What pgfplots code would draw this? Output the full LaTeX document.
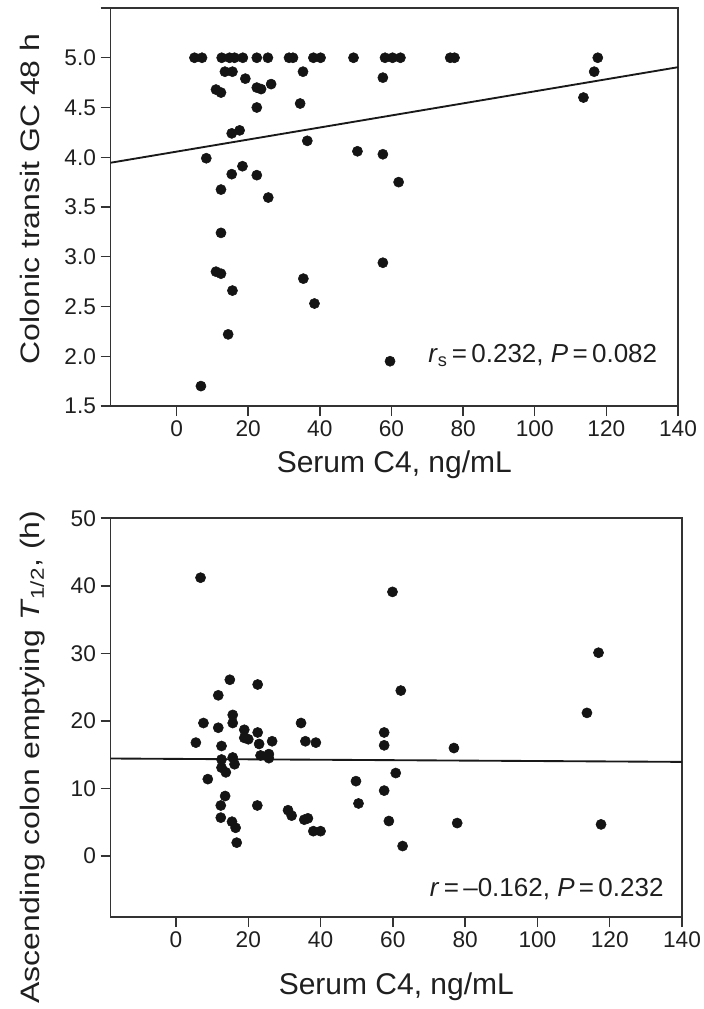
\documentclass[border=0pt]{standalone}
\usepackage{fontspec}
\setmainfont{Liberation Sans}
\newfontfamily\stretchfont[FakeStretch=1.2]{Liberation Sans}
\usepackage{pgfplots}
\pgfplotsset{compat=1.18}
\definecolor{axgray}{HTML}{333333}
\definecolor{dotblk}{HTML}{141414}

\pgfplotsset{
  c4panel/.style={
    scale only axis,
    axis line style={axgray, line width=1.1pt},
    tick style={axgray, line width=1.1pt},
    major tick length=7.5pt,
    tick align=outside,
    tick pos=left,
    xtick={0,20,40,60,80,100,120,140},
    /pgf/number format/assume math mode=true,
    ticklabel style={font=\fontsize{17}{20}\selectfont, text=black!88},
    xlabel={Serum C4, ng/mL},
    xlabel style={font=\fontsize{22.5}{26}\selectfont, text=black!88,
      at={(axis description cs:0.5,0)}, anchor=base},
    ylabel style={font=\stretchfont\fontsize{20}{24}\selectfont, text=black!88, anchor=base},
    clip=false,
  },
  dots/.style={only marks, mark=*, mark size=3.8pt, color=dotblk},
  fitline/.style={no marks, line width=1.4pt, color=black!90},
}

\begin{document}
\begin{tikzpicture}
\path[use as bounding box] (0,0) rectangle (527.25pt,-756.75pt);

% top panel: colonic transit GC 48 h
\begin{axis}[c4panel,
  at={(83pt,-304.5pt)}, anchor=south west,
  width=425.5pt, height=298.5pt,
  xmin=-18.4, xmax=140, ymin=1.5, ymax=5.5,
  ytick={1.5,2,2.5,3,3.5,4,4.5,5,5.5},
  yticklabels={1.5,2.0,2.5,3.0,3.5,4.0,4.5,5.0,{}},
  ylabel={Colonic transit GC 48 h},
  ylabel style={at={(axis description cs:-0.125,0.52)}},
  xlabel style={yshift=-50pt},
]
\addplot[dots] coordinates {
(5.0,5)(7.1,5)(12.6,5)(14.8,5)(16.2,5)(18.5,5)(22.4,5)(25.5,5)(31.4,5)(32.5,5)
(38.2,5)(40.2,5)(49.4,5)(58.2,5)(60.3,5)(62.5,5)(76.4,5)(77.6,5)(117.6,5)
(13.5,4.86)(15.6,4.86)(19.2,4.79)(11.0,4.68)(12.4,4.65)(22.4,4.70)(23.6,4.685)
(26.4,4.735)(35.3,4.86)(22.4,4.50)(34.5,4.54)(57.6,4.80)(15.4,4.24)(17.6,4.27)
(36.5,4.165)(8.3,3.99)(50.5,4.06)(57.6,4.03)(15.4,3.83)(18.4,3.91)(22.4,3.82)
(12.4,3.675)(25.6,3.595)(62.0,3.75)(12.4,3.24)(11.0,2.85)(12.4,2.83)(15.6,2.66)
(14.4,2.22)(6.8,1.70)(35.4,2.78)(38.5,2.53)(57.6,2.94)(59.6,1.95)(116.6,4.86)
(113.6,4.60)
};
\addplot[fitline] coordinates {(-18.4,3.945)(140,4.905)};
\node[anchor=base east, font=\fontsize{19.5}{23}\selectfont, text=black!88]
  at (axis cs:135.5,1.935) {\textit{r}\textsubscript{s}\,=\,0.232, \textit{P}\,=\,0.082};
\end{axis}

% bottom panel: ascending colon emptying
\begin{axis}[c4panel,
  at={(83pt,-687.75pt)}, anchor=south west,
  width=428.5pt, height=299.1pt,
  xmin=-18.07, xmax=140, ymin=-9, ymax=50,
  ytick={0,10,20,30,40,50},
  ylabel={Ascending colon emptying \textit{T}\textsubscript{1/2}, (h)},
  ylabel style={at={(axis description cs:-0.124,0.401)}},
  xlabel style={yshift=-58pt},
]
\addplot[dots] coordinates {
(6.8,41.2)(59.9,39.1)(14.9,26.1)(22.6,25.4)(11.7,23.8)(15.7,20.9)(15.7,19.7)
(7.6,19.7)(11.7,19.0)(18.9,18.7)(18.9,17.5)(20.0,17.3)(22.6,18.3)(23.0,16.6)
(26.6,17.0)(34.6,19.7)(35.8,17.0)(38.7,16.8)(5.5,16.8)(12.6,16.3)(23.4,14.9)
(25.7,15.1)(25.7,14.5)(12.6,14.3)(15.7,14.6)(16.2,13.6)(12.6,13.1)(13.8,12.4)
(8.8,11.4)(13.6,8.9)(49.8,11.1)(57.6,18.3)(57.6,16.4)(60.8,12.3)(57.6,9.7)
(62.2,24.5)(116.9,30.1)(113.7,21.2)(76.9,16.0)(58.9,5.2)(77.8,4.9)(117.6,4.7)
(62.7,1.5)(12.4,7.5)(12.4,5.7)(15.5,5.1)(16.5,4.2)(16.8,2.0)(22.5,7.5)(31.0,6.8)
(32.0,6.0)(35.5,5.4)(36.5,5.6)(38.0,3.7)(40.0,3.7)(50.5,7.8)
};
\addplot[fitline] coordinates {(-18.07,14.45)(140,13.95)};
\node[anchor=base east, font=\fontsize{19.5}{23}\selectfont, text=black!88]
  at (axis cs:136.2,-5.9) {\textit{r}\,=\,–0.162, \textit{P}\,=\,0.232};
\end{axis}
\end{tikzpicture}
\end{document}
